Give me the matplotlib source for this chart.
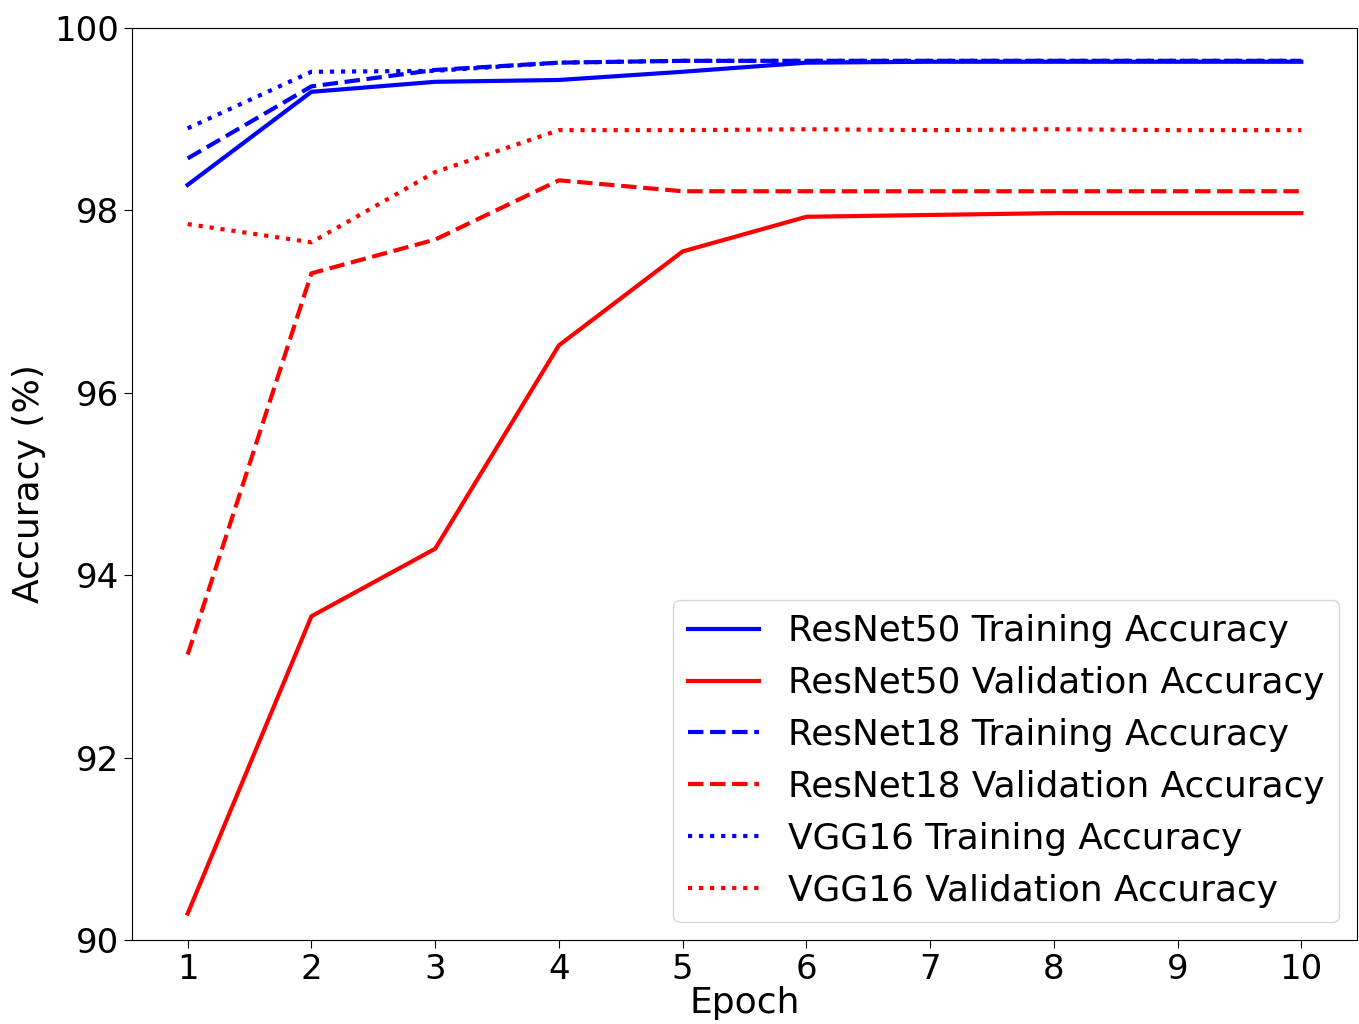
import matplotlib
matplotlib.use("Agg")
import matplotlib.pyplot as plt

# Epochs
epochs = [1, 2, 3, 4, 5, 6, 7, 8, 9, 10]

# Accuracy (%)
resnet50_train = [98.28, 99.30, 99.41, 99.43, 99.52, 99.62, 99.63, 99.63, 99.63, 99.63]
resnet50_val = [90.29, 93.55, 94.29, 96.52, 97.55, 97.93, 97.95, 97.97, 97.97, 97.97]
resnet18_train = [98.57, 99.36, 99.54, 99.62, 99.64, 99.64, 99.64, 99.64, 99.64, 99.64]
resnet18_val = [93.13, 97.31, 97.68, 98.33, 98.21, 98.21, 98.21, 98.21, 98.21, 98.21]
vgg16_train = [98.90, 99.52, 99.53, 99.62, 99.64, 99.64, 99.64, 99.64, 99.64, 99.64]
vgg16_val = [97.85, 97.65, 98.42, 98.88, 98.88, 98.89, 98.88, 98.89, 98.88, 98.88]

fig = plt.figure(figsize=(13.59, 10.24), dpi=100)
ax = fig.add_axes([132 / 1359, 1 - 940 / 1024, (1357 - 132) / 1359, (940 - 28) / 1024])

lw = 3
ax.plot(epochs, resnet50_train, color='blue', linestyle='-', linewidth=lw, label='ResNet50 Training Accuracy')
ax.plot(epochs, resnet50_val, color='red', linestyle='-', linewidth=lw, label='ResNet50 Validation Accuracy')
ax.plot(epochs, resnet18_train, color='blue', linestyle='--', linewidth=lw, label='ResNet18 Training Accuracy')
ax.plot(epochs, resnet18_val, color='red', linestyle='--', linewidth=lw, label='ResNet18 Validation Accuracy')
ax.plot(epochs, vgg16_train, color='blue', linestyle=':', linewidth=lw, label='VGG16 Training Accuracy')
ax.plot(epochs, vgg16_val, color='red', linestyle=':', linewidth=lw, label='VGG16 Validation Accuracy')

ax.set_ylim(90, 100)
ax.set_xlim(0.55, 10.45)
ax.set_xticks(epochs)
ax.set_yticks([90, 92, 94, 96, 98, 100])
ax.tick_params(labelsize=24.5, length=6)
ax.set_xlabel('Epoch', fontsize=26, labelpad=0)
ax.set_ylabel('Accuracy (%)', fontsize=26, labelpad=6)

ax.legend(loc='lower right', fontsize=25.8, handlelength=2.0, borderaxespad=0.5)

fig.savefig('out.png', dpi=100)
